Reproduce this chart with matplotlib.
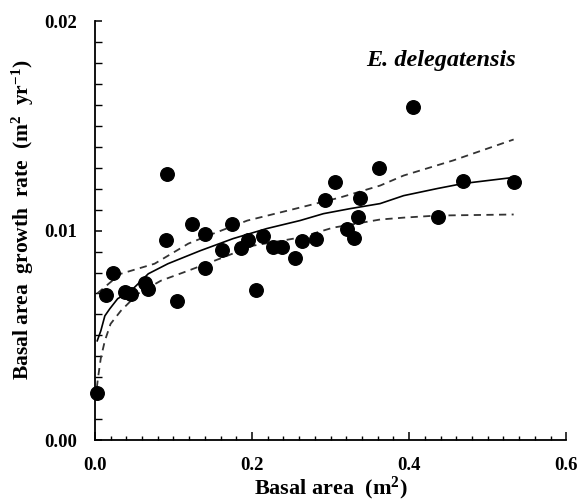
import matplotlib.pyplot as plt
from matplotlib.ticker import MultipleLocator, FormatStrFormatter

plt.rcParams["font.family"] = ["Liberation Serif", "DejaVu Serif"]
plt.rcParams["font.weight"] = "bold"
plt.rcParams["mathtext.fontset"] = "custom"
plt.rcParams["mathtext.rm"] = "Liberation Serif:bold"
plt.rcParams["mathtext.it"] = "Liberation Serif:bold:italic"
plt.rcParams["mathtext.bf"] = "Liberation Serif:bold"

# observed trees
basal_area = [0.0025, 0.014, 0.023, 0.038, 0.046, 0.064, 0.068, 0.092, 0.091,
              0.105, 0.124, 0.140, 0.140, 0.162, 0.175, 0.186, 0.195, 0.205,
              0.214, 0.227, 0.238, 0.255, 0.263, 0.282, 0.293, 0.306, 0.321,
              0.330, 0.335, 0.338, 0.362, 0.405, 0.437, 0.469, 0.533]
growth_rate = [0.00225, 0.00694, 0.00799, 0.00708, 0.00699, 0.00751, 0.00722,
               0.01268, 0.00957, 0.00665, 0.01033, 0.00986, 0.00823, 0.00909,
               0.01033, 0.00919, 0.00957, 0.00718, 0.00976, 0.00923, 0.00923,
               0.00871, 0.00952, 0.00962, 0.01148, 0.01230, 0.01010, 0.00967,
               0.01067, 0.01158, 0.01301, 0.01589, 0.01067, 0.01239, 0.01230]

# fitted curve
fit_x = [0.003, 0.0076, 0.0127, 0.019, 0.029, 0.046, 0.068, 0.093, 0.134,
         0.176, 0.219, 0.261, 0.291, 0.325, 0.363, 0.393, 0.436, 0.469, 0.533]
fit_y = [0.00474, 0.00522, 0.00593, 0.00627, 0.00675, 0.00713, 0.00794,
         0.00842, 0.00904, 0.00962, 0.01010, 0.01048, 0.01081, 0.01105,
         0.01129, 0.01167, 0.01201, 0.01225, 0.01254]

# confidence band
upper_x = [0.003, 0.019, 0.033, 0.076, 0.119, 0.144, 0.194, 0.261, 0.312,
           0.363, 0.393, 0.456, 0.533]
upper_y = [0.00700, 0.00751, 0.00794, 0.00842, 0.00938, 0.00976, 0.01048,
           0.01110, 0.01158, 0.01215, 0.01263, 0.01335, 0.01435]
lower_x = [0.0025, 0.004, 0.0076, 0.0127, 0.020, 0.033, 0.055, 0.084, 0.119,
           0.159, 0.201, 0.261, 0.303, 0.363, 0.393, 0.436, 0.533]
lower_y = [0.00250, 0.00297, 0.00392, 0.00474, 0.00555, 0.00617, 0.00699,
           0.00761, 0.00809, 0.00866, 0.00928, 0.00967, 0.01014, 0.01053,
           0.01062, 0.01072, 0.01077]

fig = plt.figure(figsize=(5.82, 5.03), dpi=100)
ax = fig.add_axes([0.163, 0.125, 0.81, 0.833])

ax.plot(upper_x, upper_y, color="#333333", lw=1.3, dashes=(4, 3))
ax.plot(lower_x, lower_y, color="#333333", lw=1.3, dashes=(4, 3))
ax.plot(fit_x, fit_y, color="black", lw=1.2)
ax.scatter(basal_area, growth_rate, s=95, color="black", zorder=3,
           clip_on=False)

ax.set_xlim(0, 0.6)
ax.set_ylim(0, 0.02)
ax.set_xticks([0.0, 0.2, 0.4, 0.6])
ax.set_yticks([0.0, 0.01, 0.02])
ax.xaxis.set_minor_locator(MultipleLocator(0.02))
ax.yaxis.set_minor_locator(MultipleLocator(0.001))
ax.xaxis.set_major_formatter(FormatStrFormatter("%.1f"))
ax.yaxis.set_major_formatter(FormatStrFormatter("%.2f"))

ax.spines["top"].set_visible(False)
ax.spines["right"].set_visible(False)
ax.spines["left"].set_linewidth(1.3)
ax.spines["bottom"].set_linewidth(1.3)
ax.tick_params(axis="x", which="major", direction="in", length=6, width=1.1,
               pad=12, labelsize=13.5)
ax.tick_params(axis="x", which="minor", direction="in", length=3, width=1.0)
ax.tick_params(axis="y", which="major", direction="in", length=5, width=1.1,
               pad=13, labelsize=13.5)
ax.tick_params(axis="y", which="minor", direction="in", length=5, width=1.0)

ax.set_xlabel("Basal area  (m$^{2}$)", fontsize=16, fontweight="bold",
              labelpad=1)
ax.set_ylabel("Basal area  growth  rate  (m$^{2}$  yr$^{-1}$)", fontsize=15.5,
              fontweight="bold")
ax.yaxis.set_label_coords(-0.125, 0.525)
ax.text(0.44, 0.0181, "E. delegatensis", fontsize=17.5, fontweight="bold",
        fontstyle="italic", ha="center", va="center")

fig.savefig("out.png", dpi=100)
